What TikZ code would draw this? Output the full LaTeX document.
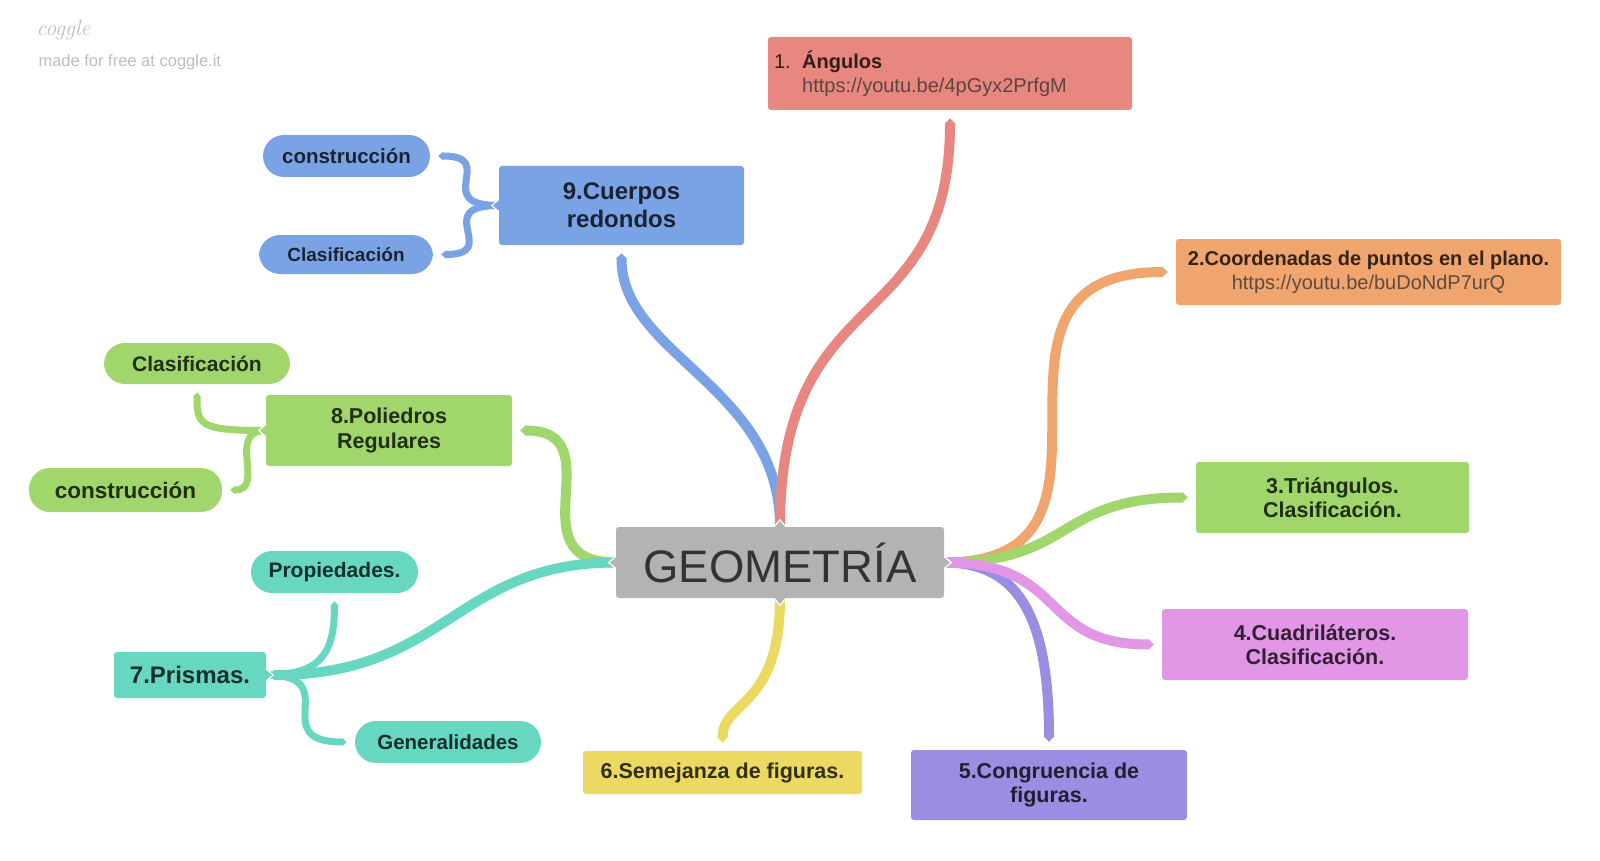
\documentclass[tikz,border=0pt]{standalone}
\usepackage{fontspec}
\setsansfont{Liberation Sans}
\renewcommand{\familydefault}{\sfdefault}
\usetikzlibrary{positioning,arrows.meta,backgrounds}

\definecolor{cGray}{HTML}{B3B3B3}
\definecolor{cRed}{HTML}{E8877F}
\definecolor{cOrange}{HTML}{F0A46E}
\definecolor{cGreen}{HTML}{A0D66B}
\definecolor{cPink}{HTML}{E196E6}
\definecolor{cPurple}{HTML}{9A8EE2}
\definecolor{cYellow}{HTML}{EBD962}
\definecolor{cTeal}{HTML}{67D7C2}
\definecolor{cBlue}{HTML}{79A3E5}
\definecolor{cMark}{HTML}{BDBDBD}

\newcommand{\fs}[2]{\fontsize{#1}{#2}\selectfont}
\newcommand{\linktxt}[1]{{\mdseries\color{black!80}#1}}
\newcommand{\notch}[3]{\filldraw[fill=#3,draw=white,line width=1.2pt,shift={(#1)},rotate=#2] (0,-6) -- (7,0) -- (0,6);}

\tikzset{
  box/.style={rounded corners=3pt, inner sep=0pt, align=center, text=black, text opacity=0.78},
  pill/.style={box, rounded corners=21pt},
  branch/.style={line width=10pt, -{Triangle[length=6pt,width=11pt]}, shorten >=8pt},
  twig/.style={line width=7pt, -{Triangle[length=5pt,width=8.5pt]}, shorten >=8pt},
}

\begin{document}
\begin{tikzpicture}[x=1pt,y=-1pt]
  \useasboundingbox (0,0) rectangle (1600,861);

  % watermark
  \node[anchor=west, text=cMark, font=\rmfamily\itshape\fs{22}{24}] (logo) at (33,30) {coggle};
  \node[anchor=west, text=cMark, font=\fs{16.5}{20}] (made) at (35,62) {made for free at coggle.it};

  % centre
  \node[box, fill=cGray, minimum width=328, minimum height=71, font=\fs{45.5}{50}, text=black!80, text opacity=1] (geo) at (780,562.5) {GEOMETRÍA};

  % main topics
  \node[box, fill=cRed, minimum width=364, minimum height=73, text width=352, align=left, font=\fs{20}{24.5}] (ang) at (950,73.5)
    {1.\hspace{11.5pt}\textbf{Ángulos}\\\hspace*{28.2pt}\linktxt{https://youtu.be/4pGyx2PrfgM}};
  \node[box, fill=cOrange, minimum width=385, minimum height=66, font=\fs{20}{24}\bfseries] (coord) at (1368.5,272)
    {2.Coordenadas de puntos en el plano.\\\linktxt{https://youtu.be/buDoNdP7urQ}};
  \node[box, fill=cGreen, minimum width=273, minimum height=71, font=\fs{21.5}{24.5}\bfseries] (tri) at (1332.5,497.5) {3.Triángulos.\\Clasificación.};
  \node[box, fill=cPink, minimum width=306, minimum height=71, font=\fs{21.5}{24.5}\bfseries] (cuad) at (1315,644.5) {4.Cuadriláteros.\\Clasificación.};
  \node[box, fill=cPurple, minimum width=276, minimum height=70, font=\fs{21.5}{24.5}\bfseries] (cong) at (1049,785) {5.Congruencia de\\figuras.};
  \node[box, fill=cYellow, minimum width=279, minimum height=43, font=\fs{21.5}{24.5}\bfseries] (sem) at (722.5,772.5) {6.Semejanza de figuras.};
  \node[box, fill=cTeal, minimum width=152, minimum height=46, font=\fs{24}{28}\bfseries] (prism) at (190,675) {7.Prismas.};
  \node[box, fill=cGreen, minimum width=246, minimum height=71, font=\fs{21.5}{24.5}\bfseries] (poli) at (389,430.5) {8.Poliedros\\Regulares};
  \node[box, fill=cBlue, minimum width=245, minimum height=79, font=\fs{24}{28}\bfseries] (cuerpos) at (621.5,205.5) {9.Cuerpos\\redondos};

  % sub topics
  \node[pill, fill=cTeal, minimum width=167, minimum height=42, font=\fs{21}{24}\bfseries] (prop) at (334.5,572) {Propiedades.};
  \node[pill, fill=cTeal, minimum width=186, minimum height=42, font=\fs{20.5}{24}\bfseries] (gen) at (448,742) {Generalidades};
  \node[pill, fill=cGreen, minimum width=186, minimum height=41, font=\fs{21}{24}\bfseries] (clasV) at (197,363.5) {Clasificación};
  \node[pill, fill=cGreen, minimum width=193, minimum height=44, font=\fs{22.5}{26}\bfseries] (consV) at (125.5,490) {construcción};
  \node[pill, fill=cBlue, minimum width=167, minimum height=42, font=\fs{20.5}{24}\bfseries] (consA) at (346.5,156) {construcción};
  \node[pill, fill=cBlue, minimum width=174, minimum height=39, font=\fs{19}{22}\bfseries] (clasA) at (346,254.5) {Clasificación};

  \begin{pgfonlayer}{background}
    \draw[branch, cBlue] (geo.north) .. controls +(0,-140) and +(0,110) .. (cuerpos.south);
    \draw[branch, cRed] (geo.north) .. controls +(0,-250) and +(0,230) .. (ang.south);
    \draw[branch, cOrange] (geo.east) .. controls +(216,0) and +(-232,0) .. (coord.west);
    \draw[branch, cGreen] (geo.east) .. controls +(130,0) and +(-140,0) .. (tri.west);
    \draw[branch, cPurple] (geo.east) .. controls +(70,0) and +(0,-140) .. (cong.north);
    \draw[branch, cPink] (geo.east) .. controls +(125,0) and +(-125,0) .. (cuad.west);
    \draw[branch, cYellow] (geo.south) .. controls +(0,110) and +(0,-50) .. (sem.north);
    \draw[branch, cGreen] (geo.west) .. controls +(-104,0) and +(104,0) .. (poli.east);
    \draw[branch, cTeal, shorten >=3pt] (geo.west) .. controls +(-160,0) and +(180,0) .. (prism.east);

    \draw[twig, cTeal] (prism.east) .. controls +(55,0) and +(0,60) .. (prop.south);
    \draw[twig, cTeal] (prism.east) .. controls +(80,0) and +(-90,0) .. (gen.west);
    \draw[twig, cGreen] (poli.west) .. controls +(-66,0) and +(0,41) .. (clasV.south);
    \draw[twig, cGreen] (poli.west) .. controls +(-40,0) and +(44,0) .. (consV.east);
    \draw[twig, cBlue] (cuerpos.west) .. controls +(-69,0) and +(69,0) .. (consA.east);
    \draw[twig, cBlue] (cuerpos.west) .. controls +(-69,0) and +(69,0) .. (clasA.east);
  \end{pgfonlayer}

  % notches
  \notch{geo.north}{90}{cGray}
  \notch{geo.south}{-90}{cGray}
  \notch{geo.east}{0}{cGray}
  \notch{geo.west}{180}{cGray}
  \notch{prism.east}{0}{cTeal}
  \notch{poli.west}{180}{cGreen}
  \notch{cuerpos.west}{180}{cBlue}
\end{tikzpicture}
\end{document}
